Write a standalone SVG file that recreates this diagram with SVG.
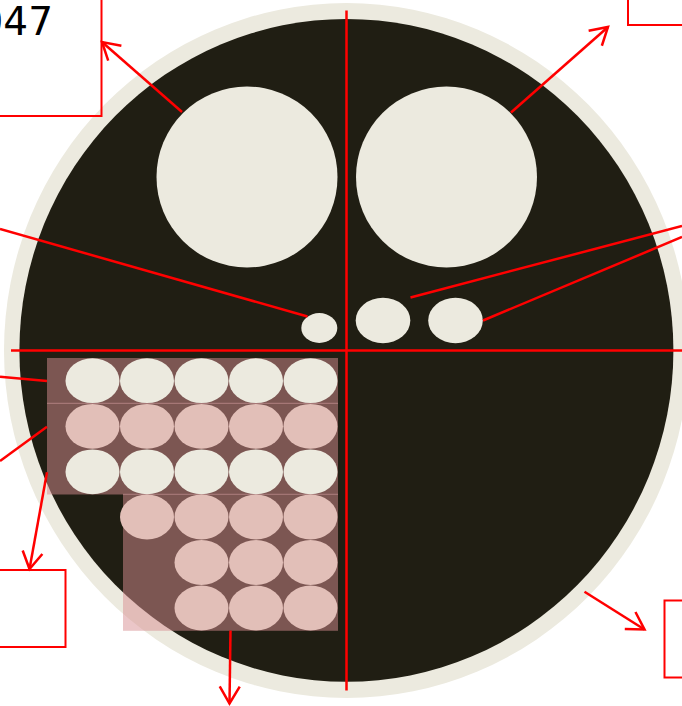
<svg xmlns="http://www.w3.org/2000/svg" width="682" height="706" viewBox="0 0 682 706">
<style>
.cream{fill:#ECEADF}
.pink{fill:#E2BFB8}
.ln{stroke:#FF0000;stroke-width:2.5;fill:none}
.box{stroke:#FF0000;stroke-width:2;fill:none}
.sep{stroke:#B08080;stroke-width:1}
</style>
<defs>
<marker id="ah" markerUnits="userSpaceOnUse" markerWidth="30" markerHeight="30" viewBox="-20 -15 30 30" refX="0" refY="0" orient="auto">
<path d="M-17,-10 L0,0 L-17,10" fill="none" stroke="#FF0000" stroke-width="2.5"/>
</marker>
</defs>
<rect width="682" height="706" fill="#FFFFFF"/>
<g id="disc">
<ellipse cx="346.4" cy="350.5" rx="342.4" ry="347.5" class="cream"/>
<ellipse cx="346.4" cy="350.4" rx="327" ry="331.4" fill="#201E13"/>
</g>
<g id="big-left"><circle cx="247" cy="177" r="90.5" class="cream"/></g>
<g id="big-right"><circle cx="446.5" cy="177" r="90.5" class="cream"/></g>
<g id="small-1"><ellipse cx="319.3" cy="328" rx="18" ry="15" class="cream"/></g>
<g id="small-2"><ellipse cx="383" cy="320.5" rx="27.3" ry="22.7" class="cream"/></g>
<g id="small-3"><ellipse cx="455.5" cy="320.5" rx="27.3" ry="22.7" class="cream"/></g>
<g id="grid">
<rect x="47" y="358" width="291" height="136.5" fill="#D88E91" fill-opacity="0.5"/>
<rect x="123" y="494.5" width="215" height="136.3" fill="#D88E91" fill-opacity="0.5"/>
<line x1="47" y1="403.3" x2="338" y2="403.3" class="sep"/>
<line x1="123" y1="494.3" x2="338" y2="494.3" class="sep"/>
<g class="cream">
<ellipse cx="92.5" cy="380.7" rx="27" ry="22.4"/>
<ellipse cx="147" cy="380.7" rx="27" ry="22.4"/>
<ellipse cx="201.5" cy="380.7" rx="27" ry="22.4"/>
<ellipse cx="256" cy="380.7" rx="27" ry="22.4"/>
<ellipse cx="310.5" cy="380.7" rx="27" ry="22.4"/>
<ellipse cx="92.5" cy="471.8" rx="27" ry="22.4"/>
<ellipse cx="147" cy="471.8" rx="27" ry="22.4"/>
<ellipse cx="201.5" cy="471.8" rx="27" ry="22.4"/>
<ellipse cx="256" cy="471.8" rx="27" ry="22.4"/>
<ellipse cx="310.5" cy="471.8" rx="27" ry="22.4"/>
</g>
<g class="pink">
<ellipse cx="92.5" cy="426.3" rx="27" ry="22.4"/>
<ellipse cx="147" cy="426.3" rx="27" ry="22.4"/>
<ellipse cx="201.5" cy="426.3" rx="27" ry="22.4"/>
<ellipse cx="256" cy="426.3" rx="27" ry="22.4"/>
<ellipse cx="310.5" cy="426.3" rx="27" ry="22.4"/>
<ellipse cx="147" cy="517" rx="27" ry="22.4"/>
<ellipse cx="201.5" cy="517" rx="27" ry="22.4"/>
<ellipse cx="256" cy="517" rx="27" ry="22.4"/>
<ellipse cx="310.5" cy="517" rx="27" ry="22.4"/>
<ellipse cx="201.5" cy="562.5" rx="27" ry="22.4"/>
<ellipse cx="256" cy="562.5" rx="27" ry="22.4"/>
<ellipse cx="310.5" cy="562.5" rx="27" ry="22.4"/>
<ellipse cx="201.5" cy="608" rx="27" ry="22.4"/>
<ellipse cx="256" cy="608" rx="27" ry="22.4"/>
<ellipse cx="310.5" cy="608" rx="27" ry="22.4"/>
</g>
</g>
<g id="box-top-left">
<rect x="-5" y="-5" width="106.5" height="121" class="box"/>
<text x="53" y="35" text-anchor="end" font-family="DejaVu Sans, sans-serif" font-size="39" fill="#000000">047</text>
</g>
<g id="box-top-right"><rect x="628" y="-5" width="60" height="30" class="box"/></g>
<g id="box-bottom-left"><rect x="-5" y="570" width="70.5" height="77" class="box"/></g>
<g id="box-bottom-right"><rect x="664.5" y="600.5" width="30" height="77" class="box"/></g>
<g id="connectors">
<line x1="346.5" y1="10.5" x2="346.5" y2="690.5" class="ln"/>
<line x1="11" y1="350.5" x2="682" y2="350.5" class="ln"/>
<line x1="182" y1="112" x2="102" y2="42" class="ln" marker-end="url(#ah)"/>
<line x1="511" y1="112.5" x2="608" y2="27" class="ln" marker-end="url(#ah)"/>
<line x1="0" y1="229" x2="307.5" y2="316.5" class="ln"/>
<line x1="682" y1="226" x2="410.5" y2="297.5" class="ln"/>
<line x1="682" y1="237" x2="483" y2="320.5" class="ln"/>
<line x1="0" y1="376.7" x2="47" y2="381" class="ln"/>
<line x1="0" y1="461" x2="47" y2="426.7" class="ln"/>
<line x1="47" y1="472.3" x2="29.5" y2="569" class="ln" marker-end="url(#ah)"/>
<line x1="230.5" y1="630.5" x2="229.5" y2="703.5" class="ln" marker-end="url(#ah)"/>
<line x1="584.5" y1="591.7" x2="644.5" y2="629.5" class="ln" marker-end="url(#ah)"/>
</g>
</svg>
